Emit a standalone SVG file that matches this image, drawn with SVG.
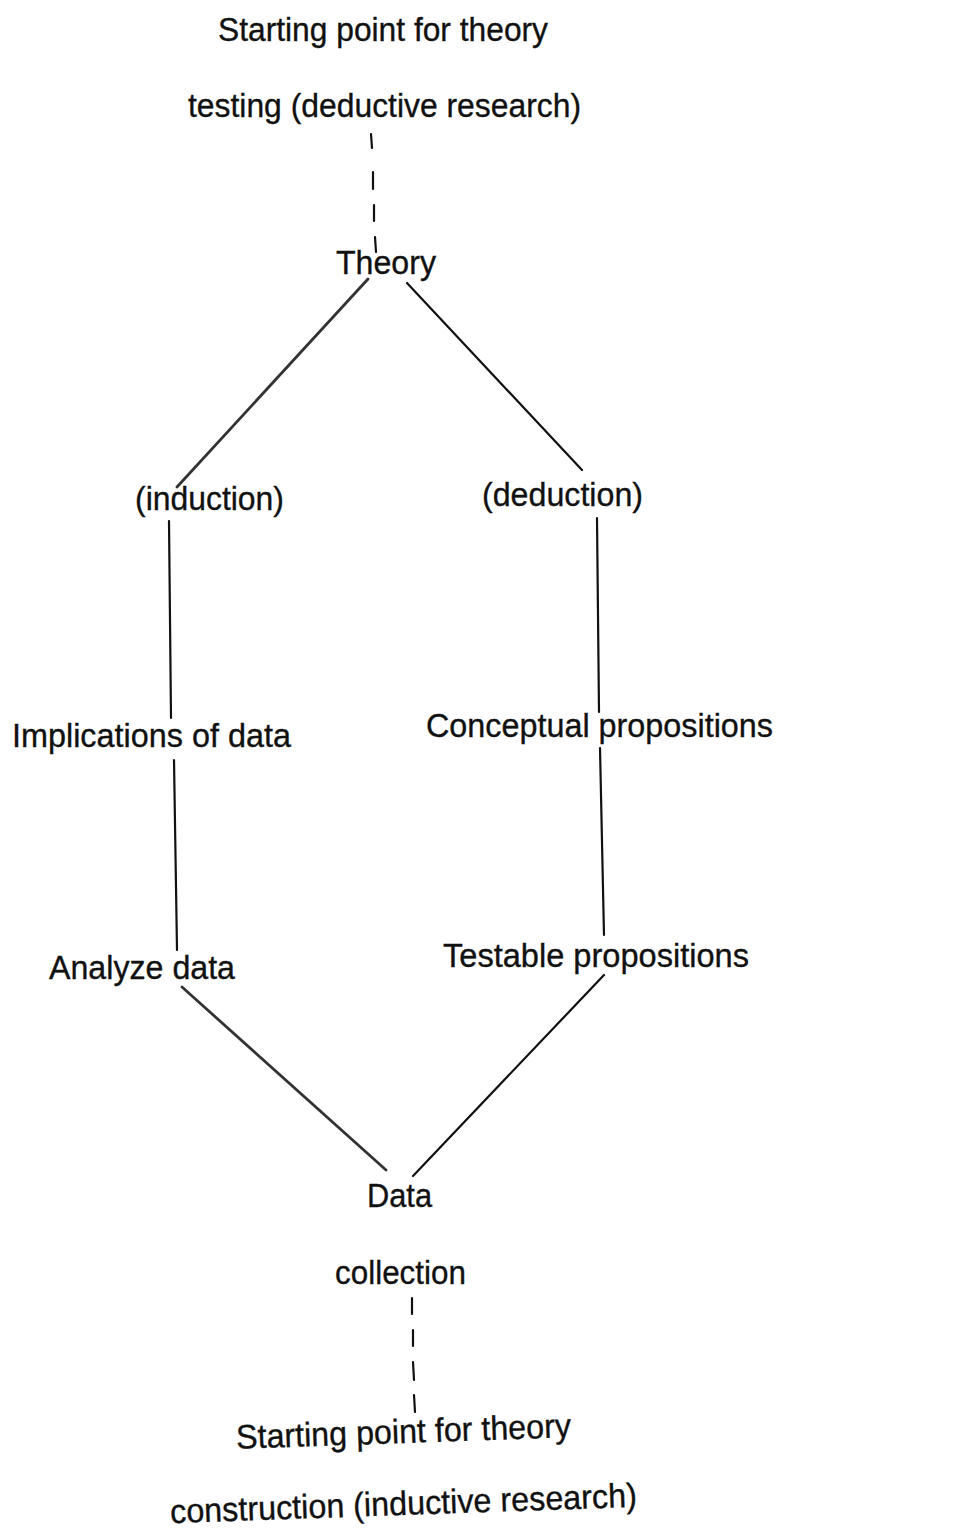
<svg xmlns="http://www.w3.org/2000/svg" width="973" height="1532" viewBox="0 0 973 1532">
  <style>
    .lbl { font-family: "Liberation Sans", Arial, sans-serif; font-size: 34px; fill: #111; stroke: #111; stroke-width: 0.35; }
    .solid { stroke: #111; stroke-width: 2.2; fill: none; stroke-linecap: round; }
    .soft { stroke: #333; stroke-width: 2.8; fill: none; stroke-linecap: round; }
    .dash { stroke: #111; stroke-width: 2.2; fill: none; stroke-linecap: round; }
  </style>
  <rect width="973" height="1532" fill="#ffffff"/>

  <!-- connectors -->
  <g id="connectors">
    <!-- dashed link: deductive starting point to Theory -->
    <path class="dash" d="M371 134 L372 148 M373 172 L373 189 M374 205 L374 221 M375 237 L376 252"/>
    <!-- Theory branches -->
    <line class="soft" x1="368" y1="279" x2="177" y2="487"/>
    <line class="solid" x1="407" y1="283" x2="582" y2="470"/>
    <!-- induction side -->
    <line class="solid" x1="169" y1="521" x2="171" y2="718"/>
    <line class="solid" x1="174" y1="760" x2="177" y2="950"/>
    <!-- deduction side -->
    <line class="solid" x1="597" y1="518" x2="599" y2="712"/>
    <line class="solid" x1="600" y1="748" x2="604" y2="935"/>
    <!-- converge on Data -->
    <line class="soft" x1="182" y1="987" x2="386" y2="1170"/>
    <line class="solid" x1="604" y1="975" x2="413" y2="1176"/>
    <!-- dashed link: collection to inductive starting point -->
    <path class="dash" d="M412 1298 L412 1314 M413 1330 L413 1346 M413 1362 L414 1380 M414 1395 L415 1412"/>
  </g>

  <g id="start-deductive">
    <text class="lbl" x="218" y="41" textLength="330" lengthAdjust="spacingAndGlyphs">Starting point for theory</text>
    <text class="lbl" x="188" y="117" textLength="393" lengthAdjust="spacingAndGlyphs">testing (deductive research)</text>
  </g>
  <g id="theory">
    <text class="lbl" x="336" y="274" textLength="100" lengthAdjust="spacingAndGlyphs">Theory</text>
  </g>
  <g id="induction">
    <text class="lbl" x="135" y="510" textLength="149" lengthAdjust="spacingAndGlyphs">(induction)</text>
  </g>
  <g id="deduction">
    <text class="lbl" x="482" y="506" textLength="161" lengthAdjust="spacingAndGlyphs">(deduction)</text>
  </g>
  <g id="implications">
    <text class="lbl" x="12" y="747" textLength="279" lengthAdjust="spacingAndGlyphs">Implications of data</text>
  </g>
  <g id="conceptual">
    <text class="lbl" x="426" y="737" textLength="347" lengthAdjust="spacingAndGlyphs">Conceptual propositions</text>
  </g>
  <g id="analyze">
    <text class="lbl" x="49" y="979" textLength="186" lengthAdjust="spacingAndGlyphs">Analyze data</text>
  </g>
  <g id="testable">
    <text class="lbl" x="443" y="967" textLength="306" lengthAdjust="spacingAndGlyphs">Testable propositions</text>
  </g>
  <g id="data-collection">
    <text class="lbl" x="367" y="1207" textLength="65" lengthAdjust="spacingAndGlyphs">Data</text>
    <text class="lbl" x="335" y="1284" textLength="131" lengthAdjust="spacingAndGlyphs">collection</text>
  </g>
  <g id="start-inductive">
    <text class="lbl" x="236" y="1443" textLength="335" lengthAdjust="spacingAndGlyphs" transform="rotate(-2 403 1433)">Starting point for theory</text>
    <text class="lbl" x="170" y="1515" textLength="467" lengthAdjust="spacingAndGlyphs" transform="rotate(-2 403 1505)">construction (inductive research)</text>
  </g>
</svg>
